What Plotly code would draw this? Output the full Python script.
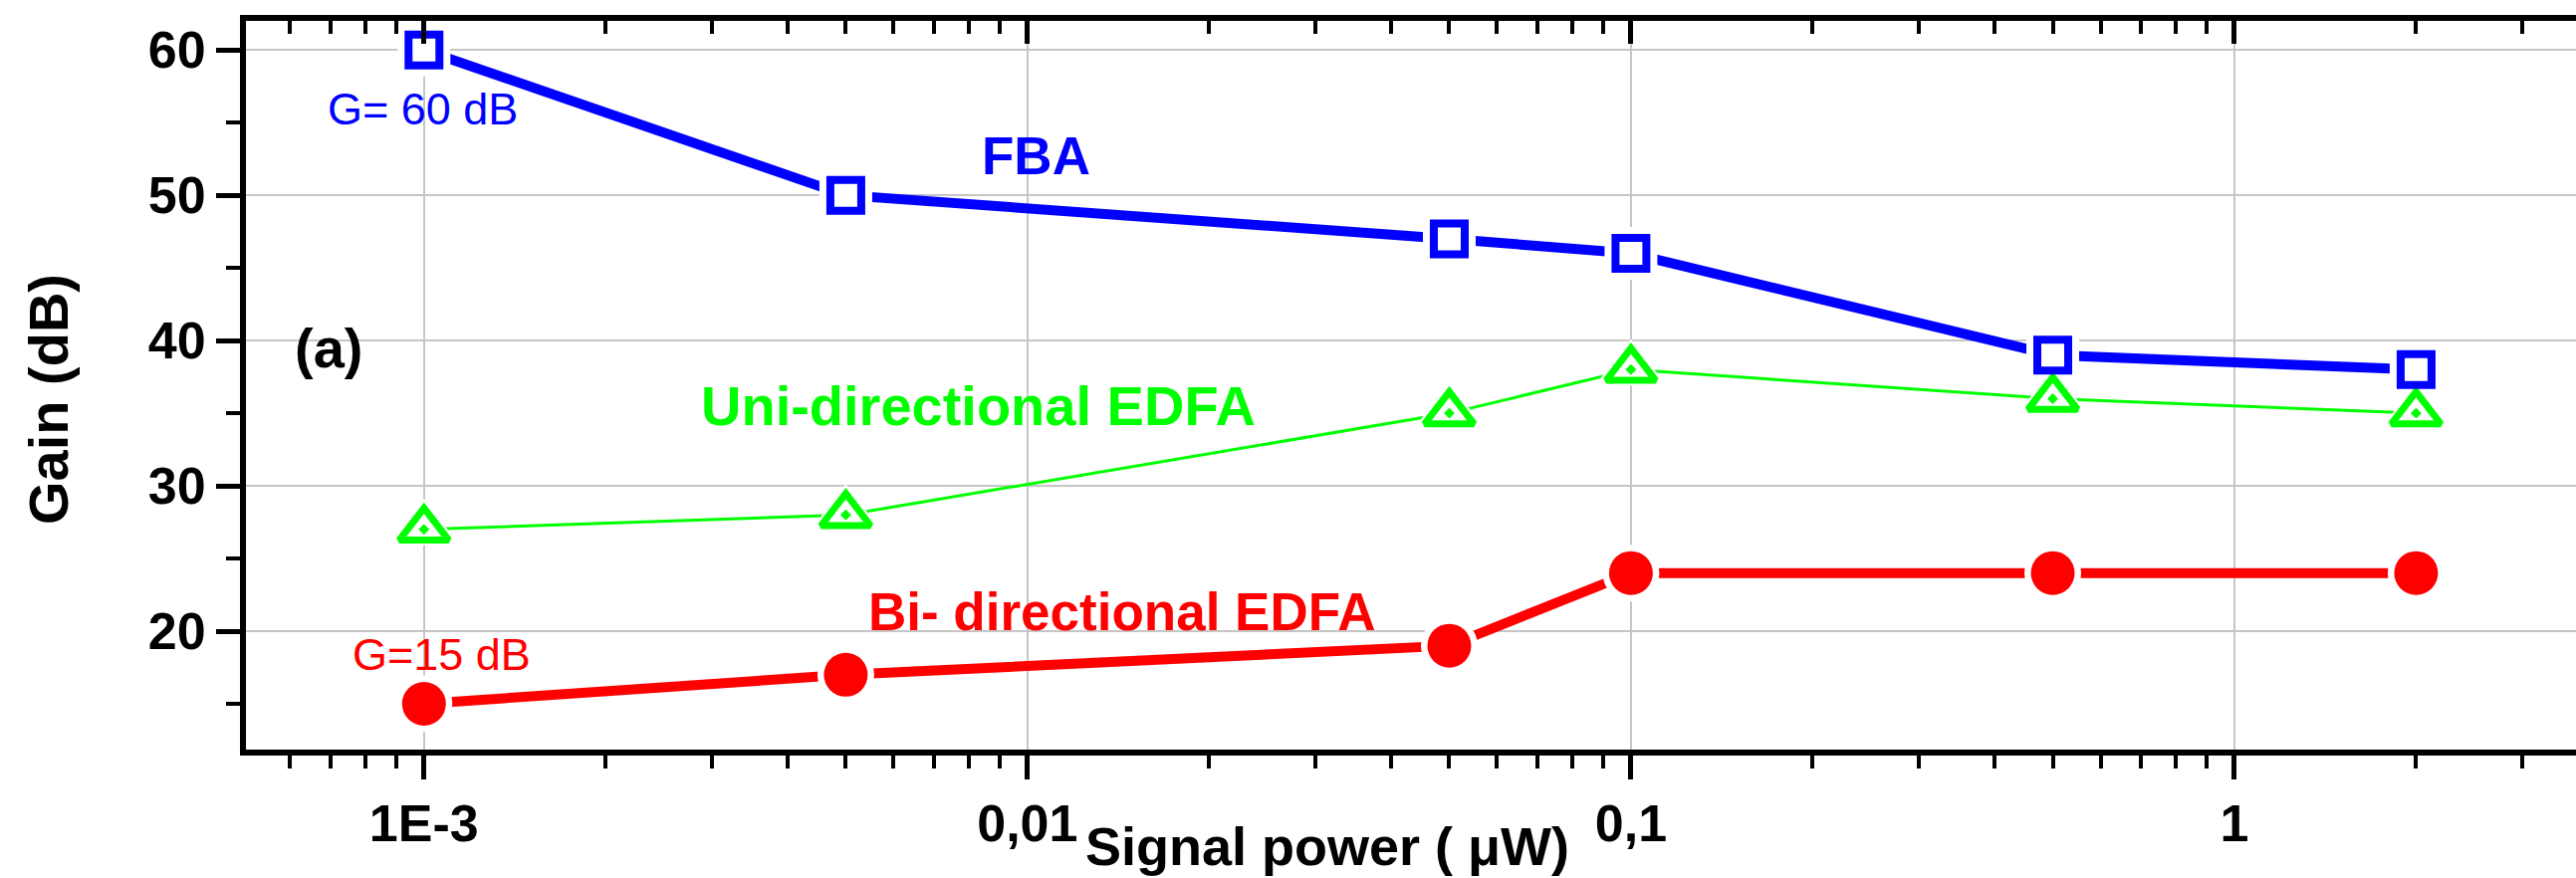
import math
import plotly.graph_objects as go

# Signal power (µW) and measured gain (dB) for each amplifier
power_uW = [0.001, 0.005, 0.05, 0.1, 0.5, 2]
gain_fba = [60, 50, 47, 46, 39, 38]
gain_uni_edfa = [27, 28, 35, 38, 36, 35]
gain_bi_edfa = [15, 17, 19, 24, 24, 24]

# Axis ticks
x_range = [-3.295, 0.566]          # log10 of the visible power range
y_range = [11.85, 62.0]
x_tickvals = [0.001, 0.01, 0.1, 1]
x_ticktext = ["1E-3", "0,01", "0,1", "1"]
x_minor_vals = [k * 10.0 ** e for e in range(-4, 1) for k in range(2, 10)
                if x_range[0] < math.log10(k * 10.0 ** e) < x_range[1]]
y_tickvals = [20, 30, 40, 50, 60]

FONT = "Liberation Sans, Arial, sans-serif"
BLUE, GREEN, RED = "#0000ff", "#00ff00", "#ff0000"

W, H = 2587, 882
PLOT_L, PLOT_R, PLOT_T, PLOT_B = 247, 2587, 21, 753


def px(xp):
    return (xp - PLOT_L) / (PLOT_R - PLOT_L)


def py(yp):
    return (PLOT_B - yp) / (PLOT_B - PLOT_T)


fig = go.Figure()

# connecting lines
fig.add_trace(go.Scatter(x=power_uW, y=gain_uni_edfa, mode="lines",
                         line=dict(color=GREEN, width=3), hoverinfo="skip"))
fig.add_trace(go.Scatter(x=power_uW, y=gain_fba, mode="lines",
                         line=dict(color=BLUE, width=10), hoverinfo="skip"))
fig.add_trace(go.Scatter(x=power_uW, y=gain_bi_edfa, mode="lines",
                         line=dict(color=RED, width=10), hoverinfo="skip"))

# white halos leave a small gap between lines and symbols
fig.add_trace(go.Scatter(x=power_uW, y=gain_uni_edfa, mode="markers", hoverinfo="skip",
                         marker=dict(symbol="triangle-up", size=52, color="white",
                                     line=dict(color="white", width=6))))
fig.add_trace(go.Scatter(x=power_uW, y=gain_fba, mode="markers", hoverinfo="skip",
                         marker=dict(symbol="square", size=53, color="white",
                                     line=dict(width=0))))
fig.add_trace(go.Scatter(x=power_uW, y=gain_bi_edfa, mode="markers", hoverinfo="skip",
                         marker=dict(symbol="circle", size=57, color="white",
                                     line=dict(width=0))))

# symbols
fig.add_trace(go.Scatter(x=power_uW, y=gain_uni_edfa, mode="markers", name="Uni-directional EDFA",
                         marker=dict(symbol="triangle-up-open-dot", size=43, color=GREEN,
                                     line=dict(color=GREEN, width=7))))
fig.add_trace(go.Scatter(x=power_uW, y=gain_fba, mode="markers", name="FBA",
                         marker=dict(symbol="square", size=31, color="white",
                                     line=dict(color=BLUE, width=8))))
fig.add_trace(go.Scatter(x=power_uW, y=gain_bi_edfa, mode="markers", name="Bi- directional EDFA",
                         marker=dict(symbol="circle", size=44, color=RED,
                                     line=dict(width=0))))

# invisible trace on a transparent twin subplot that carries the top ticks
fig.add_trace(go.Scatter(x=power_uW, y=gain_fba, xaxis="x2", yaxis="y2",
                         mode="markers", marker=dict(opacity=0),
                         showlegend=False, hoverinfo="skip"))

fig.update_layout(
    width=W, height=H, autosize=False,
    margin=dict(l=PLOT_L, r=W - PLOT_R, t=PLOT_T, b=H - PLOT_B),
    paper_bgcolor="white", plot_bgcolor="rgba(0,0,0,0)",
    showlegend=False,
    font=dict(family=FONT, color="black"),
    xaxis=dict(
        type="log", range=x_range, domain=[0, 1],
        tickmode="array", tickvals=x_tickvals, ticktext=x_ticktext,
        ticks="outside", ticklen=24, tickwidth=5, tickcolor="black",
        tickfont=dict(family=FONT, size=52, weight="bold", color="black"),
        showline=True, linewidth=6, linecolor="black", mirror=True,
        showgrid=True, gridcolor="#c6c6c6", gridwidth=2,
        zeroline=False,
        minor=dict(tickmode="array", tickvals=x_minor_vals, ticks="outside",
                   ticklen=13, tickwidth=4, tickcolor="black", showgrid=False),
    ),
    yaxis=dict(
        range=y_range, domain=[0, 1],
        tickmode="array", tickvals=y_tickvals,
        ticks="outside", ticklen=24, tickwidth=5, tickcolor="black",
        tickfont=dict(family=FONT, size=52, weight="bold", color="black"),
        showline=True, linewidth=6, linecolor="black",
        showgrid=True, gridcolor="#c6c6c6", gridwidth=2,
        zeroline=False,
        minor=dict(dtick=5, tick0=0, ticks="outside", ticklen=14, tickwidth=4,
                   tickcolor="black", showgrid=False),
    ),
    # top axis: inward ticks only
    xaxis2=dict(
        type="log", range=x_range, domain=[0, 1], anchor="y2", side="top",
        tickmode="array", tickvals=x_tickvals,
        ticks="inside", ticklen=23, tickwidth=5, tickcolor="black",
        showticklabels=False, showgrid=False, zeroline=False, showline=False,
        minor=dict(tickmode="array", tickvals=x_minor_vals, ticks="inside",
                   ticklen=13, tickwidth=4, tickcolor="black", showgrid=False),
    ),
    yaxis2=dict(range=y_range, domain=[0, 1], anchor="x2", visible=False,
                showgrid=False, zeroline=False),
)


def label(text, xp, yp, size, color, bold=True, angle=0):
    fig.add_annotation(
        text=text, x=px(xp), y=py(yp), xref="paper", yref="paper",
        xanchor="center", yanchor="middle", showarrow=False, textangle=angle,
        font=dict(family=FONT, size=size, color=color,
                  weight="bold" if bold else "normal"),
    )


label("Signal power ( μW)", 1333, 850, 54, "black")
label("Gain (dB)", 48, 401, 56, "black", angle=-90)
label("(a)", 330, 349, 56, "black")
label("FBA", 1040, 156, 53, BLUE)
label("Uni-directional EDFA", 982, 407, 56, GREEN)
label("Bi- directional EDFA", 1126, 614, 53, RED)
label("G= 60 dB", 424, 110, 45, BLUE, bold=False)
label("G=15 dB", 443, 657, 45, RED, bold=False)

fig.write_html("out.html")
